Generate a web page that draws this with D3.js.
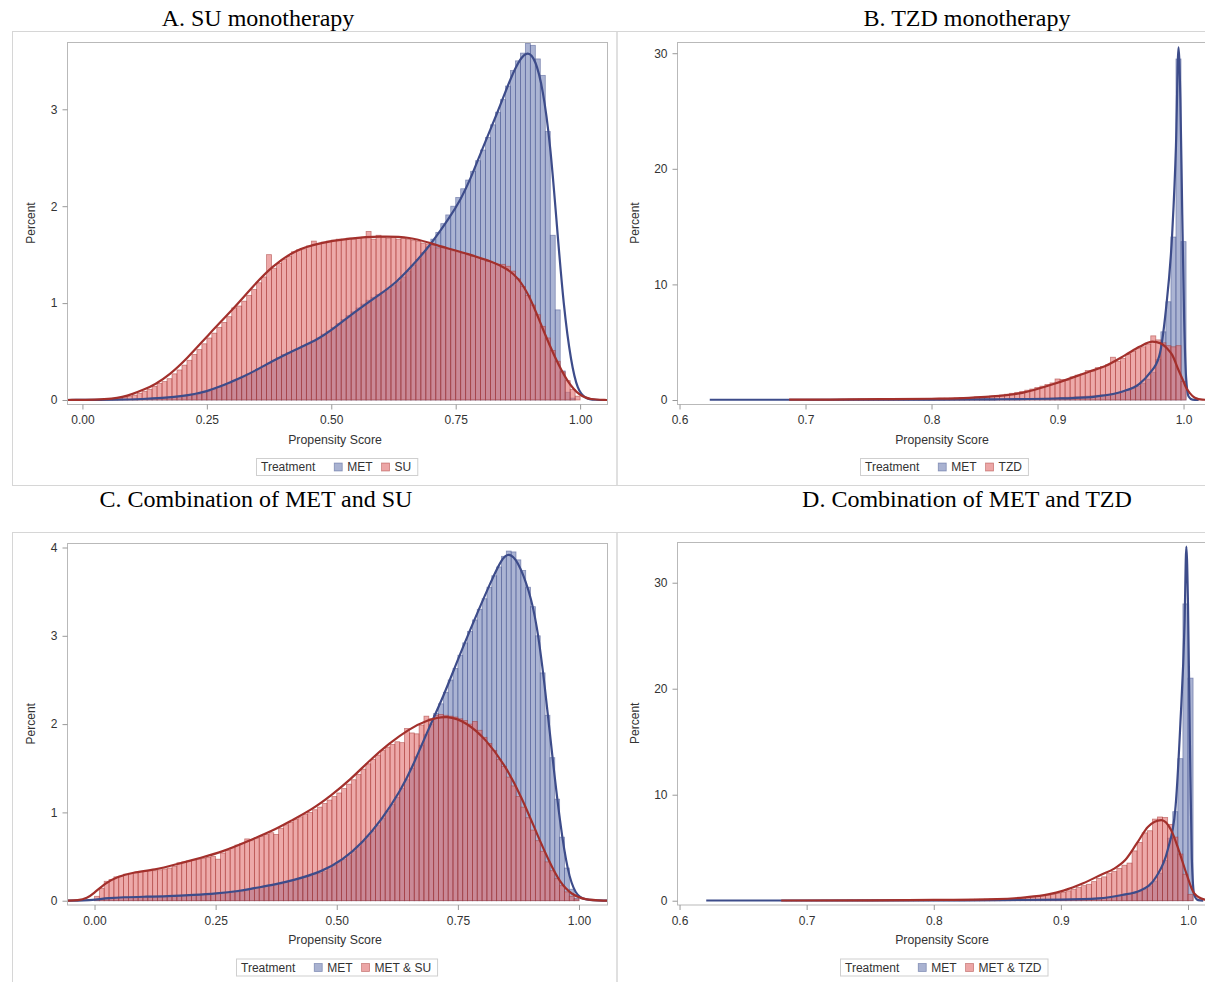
<!DOCTYPE html>
<html><head><meta charset="utf-8">
<script src="https://cdn.jsdelivr.net/npm/d3@7"></script>
<style>body{margin:0;background:#fff}svg{display:block}</style>
</head><body>
<svg id="chart" width="1205" height="982"></svg>
<script>
// ---------------- DATA ----------------
const panelTitles = ["A. SU monotherapy","B. TZD monotherapy","C. Combination of MET and SU","D. Combination of MET and TZD"];
const legendLabelsA = ["MET","SU"], legendLabelsB = ["MET","TZD"], legendLabelsC = ["MET","MET & SU"], legendLabelsD = ["MET","MET & TZD"];
const xTicksAC = [0,0.25,0.5,0.75,1.0];
const xTicksBD = [0.6,0.7,0.8,0.9,1.0];
const yTicksA = [0,1,2,3], yTicksB = [0,10,20,30], yTicksC = [0,1,2,3,4], yTicksD = [0,10,20,30];
const xLabel = "Propensity Score", yLabel = "Percent", legendTitle = "Treatment";

// histogram bins (start, width)
const binA = [0, 0.01], binB = [0.702, 0.004], binC = [0, 0.01], binD = [0.680, 0.004];

const metBarsA = [0,0,0,0,0,0,0,0,0,0,
 0.01,0.01,0.01,0.01,0.02,0.02,0.02,0.03,0.03,0.04,
 0.04,0.05,0.05,0.06,0.08,0.09,0.11,0.13,0.15,0.17,
 0.19,0.22,0.24,0.27,0.29,0.32,0.35,0.38,0.41,0.44,
 0.47,0.49,0.51,0.53,0.56,0.58,0.61,0.64,0.68,0.71,
 0.75,0.79,0.83,0.87,0.91,0.95,0.99,1.03,1.06,1.09,
 1.11,1.14,1.18,1.22,1.27,1.33,1.39,1.45,1.52,1.58,
 1.66,1.73,1.82,1.91,2.00,2.09,2.18,2.27,2.36,2.47,
 2.58,2.71,2.84,2.97,3.10,3.24,3.40,3.50,3.58,3.68,
 3.66,3.52,3.35,2.77,1.70,0.93,0.30,0.08,0.02,0];
const suBarsA = [0,0,0,0,0,0.01,0.01,0.02,0.03,0.04,
 0.05,0.07,0.09,0.11,0.14,0.17,0.19,0.22,0.27,0.31,
 0.36,0.41,0.47,0.52,0.58,0.64,0.69,0.75,0.80,0.86,
 0.95,0.97,1.02,1.08,1.14,1.21,1.27,1.50,1.36,1.41,
 1.45,1.48,1.53,1.55,1.56,1.59,1.64,1.61,1.63,1.64,
 1.65,1.66,1.66,1.67,1.66,1.67,1.68,1.74,1.66,1.70,
 1.68,1.67,1.68,1.66,1.67,1.66,1.65,1.64,1.62,1.61,
 1.60,1.57,1.58,1.56,1.54,1.53,1.51,1.50,1.48,1.47,
 1.45,1.43,1.42,1.40,1.40,1.38,1.33,1.25,1.17,1.08,
 0.98,0.88,0.76,0.64,0.51,0.40,0.29,0.20,0.11,0.04];
const metCurveA = [[-0.031,0],[0.08,0.003],[0.12,0.01],[0.16,0.02],[0.2,0.04],[0.225,0.06],[0.25,0.09],[0.272,0.13],[0.3,0.19],[0.319,0.23],[0.35,0.31],[0.381,0.4],[0.428,0.52],[0.475,0.63],[0.5,0.72],[0.522,0.81],[0.569,0.99],[0.598,1.09],[0.632,1.22],[0.66,1.37],[0.698,1.59],[0.74,1.9],[0.76,2.07],[0.779,2.27],[0.804,2.6],[0.836,2.99],[0.86,3.32],[0.88,3.53],[0.895,3.6],[0.91,3.52],[0.925,3.22],[0.94,2.65],[0.953,1.82],[0.967,0.95],[0.982,0.38],[0.995,0.1],[1.01,0.015],[1.03,0],[1.054,0]];
const suCurveA = [[-0.031,0],[0.03,0.003],[0.06,0.012],[0.08,0.03],[0.1,0.06],[0.125,0.11],[0.146,0.16],[0.175,0.26],[0.209,0.42],[0.256,0.69],[0.303,0.94],[0.342,1.17],[0.381,1.38],[0.428,1.55],[0.475,1.62],[0.538,1.67],[0.6,1.69],[0.66,1.68],[0.698,1.62],[0.73,1.57],[0.773,1.51],[0.828,1.42],[0.851,1.36],[0.875,1.27],[0.9,1.06],[0.925,0.73],[0.95,0.43],[0.975,0.18],[1.0,0.04],[1.02,0.005],[1.054,0]];

const metBarsB = [0.01,0.01,0.01,0.01,0.01,0.01,0.01,0.01,0.01,0.01,
 0.01,0.01,0.01,0.02,0.02,0.02,0.02,0.02,0.02,0.02,
 0.03,0.03,0.03,0.03,0.03,0.03,0.04,0.04,0.04,0.04,
 0.05,0.05,0.05,0.06,0.06,0.07,0.07,0.08,0.08,0.09,
 0.10,0.10,0.11,0.12,0.13,0.14,0.15,0.16,0.18,0.20,
 0.22,0.24,0.26,0.28,0.31,0.34,0.37,0.41,0.45,0.50,
 0.56,0.63,0.72,0.85,1.00,1.20,1.45,1.80,2.40,3.50,
 5.90,8.50,14.10,29.50,13.70];
const tzdBarsB = [0.04,0.04,0.05,0.04,0.05,0.05,0.06,0.05,0.06,0.06,
 0.07,0.06,0.07,0.08,0.07,0.08,0.09,0.08,0.10,0.10,
 0.11,0.10,0.12,0.13,0.12,0.14,0.15,0.16,0.16,0.18,
 0.20,0.21,0.23,0.26,0.28,0.30,0.34,0.38,0.43,0.50,
 0.58,0.66,0.74,0.85,0.95,1.08,1.20,1.35,1.48,1.82,
 1.78,1.70,2.00,2.15,2.25,2.55,2.50,2.80,2.90,3.05,
 3.70,3.35,3.60,3.95,4.20,4.45,4.60,4.85,5.55,5.20,
 4.95,4.70,4.60,4.70,1.60];
const metCurveB = [[0.624,0.02],[0.7,0.02],[0.8,0.04],[0.85,0.06],[0.9,0.13],[0.912,0.17],[0.93,0.3],[0.951,0.72],[0.965,1.4],[0.973,2.3],[0.9806,3.75],[0.986,7.8],[0.991,14.4],[0.994,22],[0.996,30.5],[0.9975,26],[0.999,16],[1.0005,7],[1.002,2],[1.004,0.3],[1.007,0.03],[1.012,0]];
const tzdCurveB = [[0.687,0.03],[0.72,0.04],[0.76,0.07],[0.8,0.11],[0.83,0.19],[0.846,0.29],[0.872,0.62],[0.8988,1.45],[0.925,2.45],[0.938,2.95],[0.954,3.9],[0.965,4.6],[0.9753,5.05],[0.982,4.9],[0.987,4.45],[0.991,3.9],[0.996,2.6],[1.0,1.6],[1.0017,1.15],[1.005,0.6],[1.009,0.2],[1.015,0.03],[1.025,0]];

const metBarsC = [0.01,0.02,0.03,0.03,0.04,0.04,0.04,0.04,0.04,0.04,
 0.04,0.05,0.05,0.05,0.05,0.05,0.05,0.06,0.06,0.06,
 0.06,0.07,0.07,0.07,0.08,0.08,0.09,0.09,0.10,0.10,
 0.11,0.12,0.13,0.14,0.15,0.16,0.17,0.18,0.19,0.21,
 0.22,0.24,0.25,0.27,0.28,0.30,0.31,0.33,0.36,0.40,
 0.44,0.47,0.51,0.56,0.61,0.67,0.73,0.79,0.85,0.93,
 1.01,1.09,1.17,1.27,1.37,1.50,1.63,1.76,1.88,2.00,
 2.12,2.23,2.36,2.50,2.63,2.78,2.92,3.05,3.18,3.30,
 3.42,3.55,3.68,3.78,3.90,3.96,3.95,3.86,3.74,3.55,
 3.33,3.00,2.58,2.10,1.62,1.15,0.72,0.37,0.13,0.03];
const suBarsC = [0.05,0.14,0.22,0.24,0.27,0.28,0.30,0.31,0.32,0.33,
 0.33,0.34,0.34,0.35,0.36,0.37,0.39,0.43,0.44,0.45,
 0.46,0.47,0.48,0.49,0.50,0.47,0.54,0.57,0.60,0.63,
 0.65,0.70,0.68,0.71,0.73,0.75,0.77,0.75,0.82,0.86,
 0.89,0.92,0.95,0.98,1.00,1.03,1.06,1.10,1.14,1.18,
 1.22,1.27,1.32,1.37,1.43,1.49,1.55,1.60,1.65,1.70,
 1.74,1.77,1.80,1.79,1.95,1.90,1.89,1.99,2.09,2.06,
 2.10,2.11,2.10,2.09,2.08,2.06,2.04,2.00,2.03,1.93,
 1.85,1.78,1.70,1.60,1.52,1.40,1.30,1.18,1.06,0.94,
 0.80,0.68,0.56,0.44,0.34,0.25,0.17,0.10,0.05,0.02];
const metCurveC = [[-0.057,0],[-0.02,0.002],[0.0,0.01],[0.03,0.03],[0.06,0.04],[0.1,0.045],[0.15,0.05],[0.207,0.065],[0.25,0.08],[0.3,0.11],[0.327,0.14],[0.37,0.18],[0.41,0.23],[0.47,0.33],[0.512,0.46],[0.552,0.65],[0.592,0.91],[0.632,1.25],[0.656,1.51],[0.688,1.93],[0.72,2.31],[0.752,2.76],[0.784,3.18],[0.817,3.6],[0.841,3.88],[0.855,3.94],[0.873,3.86],[0.897,3.52],[0.913,3.14],[0.929,2.46],[0.945,1.63],[0.961,0.87],[0.977,0.31],[0.993,0.07],[1.01,0.005],[1.058,0]];
const suCurveC = [[-0.057,0],[-0.034,0.003],[-0.015,0.03],[-0.002,0.08],[0.022,0.2],[0.046,0.27],[0.078,0.32],[0.126,0.35],[0.167,0.41],[0.222,0.49],[0.262,0.55],[0.319,0.68],[0.367,0.79],[0.407,0.91],[0.448,1.03],[0.488,1.19],[0.528,1.37],[0.568,1.59],[0.608,1.78],[0.648,1.94],[0.688,2.05],[0.728,2.1],[0.768,2.02],[0.808,1.83],[0.849,1.52],[0.881,1.18],[0.913,0.76],[0.937,0.46],[0.961,0.2],[0.985,0.07],[1.01,0.01],[1.058,0]];

const metBarsD = [0.02,0.02,0.02,0.02,0.02,0.02,0.02,0.02,0.02,0.02,
 0.02,0.02,0.02,0.02,0.02,0.02,0.02,0.02,0.02,0.02,
 0.02,0.02,0.03,0.03,0.03,0.03,0.03,0.03,0.03,0.03,
 0.03,0.03,0.04,0.04,0.04,0.04,0.04,0.05,0.05,0.05,
 0.05,0.05,0.06,0.06,0.06,0.07,0.07,0.08,0.08,0.09,
 0.09,0.10,0.10,0.11,0.11,0.12,0.13,0.15,0.17,0.19,
 0.21,0.24,0.27,0.30,0.34,0.39,0.45,0.52,0.60,0.72,
 0.88,1.10,1.40,1.85,2.60,3.80,5.90,8.40,13.40,28.00,
 21.00];
const tzdBarsD = [0.02,0.02,0.03,0.02,0.03,0.03,0.03,0.03,0.04,0.03,
 0.04,0.04,0.04,0.05,0.04,0.05,0.05,0.05,0.06,0.05,
 0.06,0.06,0.06,0.07,0.07,0.07,0.08,0.08,0.08,0.09,
 0.09,0.10,0.10,0.11,0.11,0.12,0.12,0.13,0.14,0.14,
 0.15,0.16,0.17,0.18,0.19,0.21,0.24,0.27,0.31,0.36,
 0.41,0.47,0.53,0.60,0.68,0.80,0.93,1.08,1.24,1.42,
 1.55,1.80,2.10,2.25,2.55,2.75,3.05,3.35,3.55,4.70,
 5.50,6.40,6.60,7.70,7.90,7.85,7.20,6.00,4.40,2.50,
 0.60];
const metCurveD = [[0.621,0.02],[0.7,0.02],[0.8,0.03],[0.85,0.05],[0.9,0.1],[0.93,0.22],[0.948,0.54],[0.962,0.94],[0.975,2.26],[0.984,4.78],[0.99,8.6],[0.994,16.7],[0.9973,26.2],[0.9987,33.4],[1.0,28],[1.0015,15],[1.003,4],[1.005,0.5],[1.008,0.05],[1.012,0]];
const tzdCurveD = [[0.68,0.02],[0.75,0.04],[0.8,0.07],[0.85,0.15],[0.872,0.32],[0.89,0.6],[0.902,0.95],[0.9175,1.64],[0.9325,2.5],[0.9416,3.0],[0.9506,3.84],[0.9597,5.4],[0.9686,6.98],[0.979,7.6],[0.9867,6.67],[0.9927,4.78],[0.9987,2.58],[1.0048,0.7],[1.0131,0.1],[1.02,0]];

// ---------------- LAYOUT / STYLE ----------------
const C = {
  metFill:"#6f7eb3", othFill:"#e06a6a", metEdge:"#3f4f8c", othEdge:"#a3302c",
  metLine:"#3d4c8a", othLine:"#a3302c", frame:"#b9b9b9", outer:"#d6d6d6", text:"#333"
};
const sans = "'Liberation Sans', Arial, sans-serif";
const serif = "'Liberation Serif', 'Times New Roman', serif";

const panels = [
 {id:"A", title:panelTitles[0], tx:258, ty:26, outer:[12,31,604.5,454], f:{l:67,r:607,t:42,b:404},
  xd:[-0.031,1.054], yd:[-0.0413,3.6945], xt:xTicksAC, xf:".2f", yt:yTicksA, bin:binA,
  met:metBarsA, oth:suBarsA, mc:metCurveA, oc:suCurveA, leg:legendLabelsA, px:31, smooth:true},
 {id:"B", title:panelTitles[1], tx:967, ty:26, outer:[616.5,31,620,454], f:{l:677,r:1211,t:42,b:404},
  xd:[0.598,1.0218], yd:[-0.346,30.97], xt:xTicksBD, xf:".1f", yt:yTicksB, bin:binB,
  met:metBarsB, oth:tzdBarsB, mc:metCurveB, oc:tzdCurveB, leg:legendLabelsB, px:635, smooth:false},
 {id:"C", title:panelTitles[2], tx:256, ty:507, outer:[12,532,604.5,455], f:{l:67,r:607,t:543,b:904.5},
  xd:[-0.0568,1.0578], yd:[-0.043,4.051], xt:xTicksAC, xf:".2f", yt:yTicksC, bin:binC,
  met:metBarsC, oth:suBarsC, mc:metCurveC, oc:suCurveC, leg:legendLabelsC, px:31, smooth:true},
 {id:"D", title:panelTitles[3], tx:967, ty:507, outer:[616.5,532,620,455], f:{l:677,r:1211,t:542,b:904.5},
  xd:[0.598,1.0181], yd:[-0.358,33.84], xt:xTicksBD, xf:".1f", yt:yTicksD, bin:binD,
  met:metBarsD, oth:tzdBarsD, mc:metCurveD, oc:tzdCurveD, leg:legendLabelsD, px:635, smooth:false}
];

const svg = d3.select("#chart");
const defs = svg.append("defs");

panels.forEach(p => {
  const g = svg.append("g");
  const f = p.f;
  g.append("rect").attr("x",p.outer[0]+0.5).attr("y",p.outer[1]+0.5)
    .attr("width",p.outer[2]).attr("height",p.outer[3])
    .attr("fill","none").attr("stroke",C.outer).attr("stroke-width",1);
  g.append("text").attr("x",p.tx).attr("y",p.ty).attr("text-anchor","middle")
    .attr("font-family",serif).attr("font-size",24).attr("fill","#000").text(p.title);

  const x = d3.scaleLinear().domain(p.xd).range([f.l,f.r]);
  const y = d3.scaleLinear().domain(p.yd).range([f.b,f.t]);

  defs.append("clipPath").attr("id","clip"+p.id).append("rect")
    .attr("x",f.l).attr("y",f.t).attr("width",f.r-f.l).attr("height",f.b-f.t);
  const pg = g.append("g").attr("clip-path","url(#clip"+p.id+")");

  const drawBars = (vals, fill, edge) => {
    pg.append("g").selectAll("rect").data(vals.map((v,i)=>({v,i})).filter(d=>d.v>0)).join("rect")
      .attr("x", d => x(p.bin[0]+d.i*p.bin[1]))
      .attr("width", d => x(p.bin[0]+(d.i+1)*p.bin[1]) - x(p.bin[0]+d.i*p.bin[1]))
      .attr("y", d => y(d.v))
      .attr("height", d => y(0)-y(d.v))
      .attr("fill", fill).attr("fill-opacity",0.58)
      .attr("stroke", edge).attr("stroke-opacity",0.55).attr("stroke-width",0.8);
  };
  drawBars(p.met, C.metFill, C.metEdge);
  drawBars(p.oth, C.othFill, C.othEdge);

  const line = d3.line().x(d=>x(d[0])).y(d=>y(d[1]))
    .curve(p.smooth ? d3.curveBasis : d3.curveMonotoneX);
  pg.append("path").datum(p.mc).attr("d",line).attr("fill","none")
    .attr("stroke",C.metLine).attr("stroke-width",2.2);
  pg.append("path").datum(p.oc).attr("d",line).attr("fill","none")
    .attr("stroke",C.othLine).attr("stroke-width",2.2);

  g.append("rect").attr("x",f.l+0.5).attr("y",f.t+0.5).attr("width",f.r-f.l).attr("height",f.b-f.t)
    .attr("fill","none").attr("stroke",C.frame);

  const xa = g.append("g").attr("transform",`translate(0,${f.b+0.5})`)
    .call(d3.axisBottom(x).tickValues(p.xt).tickFormat(d3.format(p.xf)).tickSize(5).tickPadding(6));
  const ya = g.append("g").attr("transform",`translate(${f.l+0.5},0)`)
    .call(d3.axisLeft(y).tickValues(p.yt).tickFormat(d3.format("d")).tickSize(5).tickPadding(5));
  [xa,ya].forEach(a => {
    a.select(".domain").remove();
    a.selectAll(".tick line").attr("stroke","#999");
    a.selectAll(".tick text").attr("font-family",sans).attr("font-size",12).attr("fill",C.text);
  });

  g.append("text").attr("x",(f.l+f.r)/2 - 2).attr("y",f.b+39.5).attr("text-anchor","middle")
    .attr("font-family",sans).attr("font-size",12.3).attr("fill",C.text).text(xLabel);
  g.append("text").attr("transform",`translate(${p.px},${(f.t+f.b)/2}) rotate(-90)`)
    .attr("text-anchor","middle").attr("dy","0.35em")
    .attr("font-family",sans).attr("font-size",12).attr("fill",C.text).text(yLabel);

  const lg = g.append("g");
  const border = lg.append("rect");
  let lx = 5;
  const t0 = lg.append("text").attr("x",lx).attr("y",13).attr("font-family",sans)
    .attr("font-size",12).attr("fill",C.text).text(legendTitle);
  lx += t0.node().getComputedTextLength() + 19;
  const sw = [[C.metFill,C.metEdge],[C.othFill,C.othEdge]];
  p.leg.forEach((lab,i) => {
    lg.append("rect").attr("x",lx).attr("y",5).attr("width",8).attr("height",8)
      .attr("fill",sw[i][0]).attr("fill-opacity",0.6).attr("stroke",sw[i][1]).attr("stroke-opacity",0.5).attr("stroke-width",0.8);
    lx += 13;
    const tt = lg.append("text").attr("x",lx).attr("y",13).attr("font-family",sans)
      .attr("font-size",12).attr("fill",C.text).text(lab);
    lx += tt.node().getComputedTextLength() + (i===0 ? 9 : 6);
  });
  border.attr("x",0.5).attr("y",0.5).attr("width",lx).attr("height",17)
    .attr("fill","#fff").attr("stroke","#cfcfcf");
  lg.attr("transform",`translate(${Math.round((f.l+f.r)/2 - lx/2)},${f.b+54})`);
});
</script>
</body></html>
